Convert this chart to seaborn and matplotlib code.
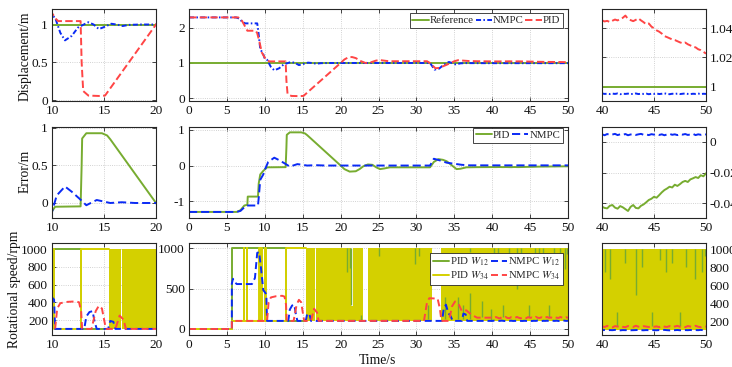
import matplotlib
matplotlib.use("Agg")
import matplotlib.pyplot as plt
import seaborn as sns
from matplotlib.lines import Line2D

sns.set_theme(style="white")
plt.rcParams['font.family'] = ['Liberation Serif', 'DejaVu Serif']
plt.rcParams['mathtext.fontset'] = 'stix'

# ---------------- data ----------------
fine_t = [40.0, 40.25, 40.5, 40.75, 41.0, 41.25, 41.5, 41.75, 42.0, 42.25, 42.5, 42.75,
          43.0, 43.25, 43.5, 43.75, 44.0, 44.25, 44.5, 44.75, 45.0, 45.25, 45.5, 45.75,
          46.0, 46.25, 46.5, 46.75, 47.0, 47.25, 47.5, 47.75, 48.0, 48.25, 48.5, 48.75,
          49.0, 49.25, 49.5, 49.75, 50.0]

# Displacement
ref_t = [0, 50]
ref_v = [1, 1]

disp_nmpc_t = [0, 6.2, 6.6, 7.0, 7.4, 9.0, 9.15, 9.4, 9.8, 10.0, 10.3, 10.8, 11.25, 11.9, 12.5,
               13.2, 13.5, 14.0, 14.5, 14.9, 15.7, 16.2, 16.8, 17.4, 18.5, 25.0, 31.8, 32.4,
               33.0, 33.6, 34.3, 34.8, 35.2, 35.8, 36.5, 38.0, 39.75]
disp_nmpc_v = [2.3, 2.3, 2.27, 2.18, 2.13, 2.13, 1.9, 1.4, 1.25, 1.12, 1.09, 0.89, 0.79, 0.85, 0.96,
               1.01, 1.03, 1.0, 0.94, 0.96, 1.01, 1.0, 0.98, 0.995, 1.0, 1.0, 1.0, 0.81,
               0.84, 0.95, 1.03, 0.99, 0.96, 0.99, 0.997, 0.996, 0.995]
disp_nmpc_fine = [0.9953, 0.9950, 0.9951, 0.9949, 0.9952, 0.9950, 0.9953, 0.9948, 0.9951, 0.9950,
                  0.9952, 0.9949, 0.9950, 0.9953, 0.9949, 0.9951, 0.9950, 0.9952, 0.9948, 0.9951,
                  0.9950, 0.9953, 0.9949, 0.9951, 0.9954, 0.9950, 0.9948, 0.9951, 0.9950, 0.9952,
                  0.9949, 0.9951, 0.9953, 0.9950, 0.9949, 0.9951, 0.9950, 0.9952, 0.9949, 0.9951,
                  0.9950]

disp_pid_t = [0, 6.5, 7.0, 7.5, 7.7, 8.8, 9.0, 9.3, 9.6, 10.0, 10.4, 10.6, 12.75, 12.85, 13.0,
              13.5, 14.5, 15.1, 20.0, 20.5, 21.0, 21.5, 22.0, 22.7, 23.3, 24.0, 24.7, 25.3,
              26.0, 26.5, 31.4, 31.8, 32.5, 33.0, 34.0, 35.0, 35.5, 36.0, 37.0, 38.0, 39.75]
disp_pid_v = [2.3, 2.3, 2.2, 2.0, 1.92, 1.92, 1.85, 1.6, 1.3, 1.15, 1.07, 1.045, 1.045, 0.5, 0.12,
              0.06, 0.055, 0.06, 1.0, 1.1, 1.16, 1.17, 1.14, 1.05, 1.0, 1.02, 1.07, 1.08,
              1.06, 1.05, 1.05, 1.0, 0.85, 0.86, 0.95, 1.05, 1.08, 1.07, 1.055, 1.05, 1.046]
disp_pid_fine = [1.0452, 1.0445, 1.0449, 1.0441, 1.0450, 1.0458, 1.0452, 1.0462, 1.0470, 1.0485,
                 1.0462, 1.0454, 1.0447, 1.0456, 1.0466, 1.0452, 1.0440, 1.0425, 1.0431, 1.0410,
                 1.0398, 1.0384, 1.0375, 1.0362, 1.0345, 1.0338, 1.0330, 1.0322, 1.0318, 1.0310,
                 1.0302, 1.0296, 1.0301, 1.0289, 1.0281, 1.0272, 1.0268, 1.0255, 1.0249, 1.0238,
                 1.0225]

# Error
err_pid_t = [0, 6.3, 6.8, 7.3, 7.7, 7.75, 9.1, 9.2, 9.4, 9.8, 10.3, 12.75, 12.85, 12.9, 13.3,
             14.8, 15.3, 15.6, 20.0, 20.5, 21.2, 22.0, 22.5, 23.0, 23.6, 24.2, 24.7, 25.2,
             25.8, 26.5, 31.8, 32.3, 32.9, 33.5, 34.0, 34.7, 35.3, 35.8, 36.6, 38.0, 39.75]
err_pid_v = [-1.3, -1.3, -1.25, -1.12, -1.1, -0.87, -0.87, -0.5, -0.25, -0.15, -0.05, -0.045, 0.5, 0.86, 0.93,
             0.93, 0.9, 0.85, 0.0, -0.1, -0.17, -0.16, -0.1, -0.02, 0.03, 0.02, -0.05, -0.1,
             -0.08, -0.05, -0.05, 0.1, 0.18, 0.16, 0.12, 0.0, -0.1, -0.09, -0.05, -0.045, -0.043]
err_pid_fine = [-0.0424, -0.0432, -0.0435, -0.0418, -0.0413, -0.0430, -0.0437, -0.0420, -0.0428,
                -0.0440, -0.0452, -0.0425, -0.0413, -0.0432, -0.0435, -0.0418, -0.0409, -0.0395,
                -0.0380, -0.0372, -0.0359, -0.0365, -0.0348, -0.0330, -0.0315, -0.0305, -0.0293,
                -0.0298, -0.0280, -0.0288, -0.0276, -0.0262, -0.0255, -0.0262, -0.0245, -0.0238,
                -0.0230, -0.0236, -0.0218, -0.0225, -0.0205]

err_nmpc_t = [0, 6.3, 6.8, 7.3, 7.6, 9.1, 9.2, 9.4, 9.8, 10.0, 10.45, 11.25, 11.9, 12.7, 13.3,
              14.3, 15.6, 16.7, 18.0, 31.8, 32.3, 33.0, 34.0, 35.0, 36.0, 37.0, 39.75]
err_nmpc_v = [-1.3, -1.3, -1.27, -1.17, -1.12, -1.12, -0.9, -0.4, -0.25, -0.12, 0.1, 0.22, 0.15, 0.05, -0.03,
              0.04, 0.0, 0.01, 0.0, 0.0, 0.19, 0.15, 0.08, 0.05, 0.02, 0.006, 0.005]
err_nmpc_fine = [0.0050, 0.0044, 0.0052, 0.0046, 0.0049, 0.0053, 0.0045, 0.0050, 0.0047, 0.0052,
                 0.0044, 0.0049, 0.0051, 0.0046, 0.0050, 0.0053, 0.0047, 0.0049, 0.0045, 0.0051,
                 0.0048, 0.0052, 0.0046, 0.0050, 0.0044, 0.0049, 0.0053, 0.0047, 0.0050, 0.0045,
                 0.0051, 0.0048, 0.0052, 0.0046, 0.0049, 0.0053, 0.0045, 0.0050, 0.0047, 0.0051,
                 0.0049]

# Rotational speed
w12_pid_t = [0, 5.65, 5.65, 12.75, 12.75, 15.5]
w12_pid_v = [0, 0, 1000, 1000, 100, 100]

w34_pid_t = [0, 5.65, 5.65, 7.2, 7.2, 7.3, 7.3, 7.6, 7.6, 7.7, 7.7, 9.25, 9.25, 9.35, 9.35,
             9.5, 9.5, 9.6, 9.6, 10.0, 10.0, 10.15, 10.15, 12.8, 12.8, 15.5]
w34_pid_v = [0, 0, 100, 100, 1000, 1000, 100, 100, 1000, 1000, 100, 100, 1000, 1000, 100,
             100, 1000, 1000, 100, 100, 1000, 1000, 100, 100, 1000, 1000]

# chattering bands of PID W34 (between low and high speed)
band_t0 = [15.45, 16.75, 21.4, 21.65, 23.55, 33.2]
band_t1 = [16.6, 21.4, 21.65, 23.0, 32.0, 50.0]
band_lo = [100, 100, 100, 100, 100, 100]
band_hi = [1000, 1000, 280, 1000, 1000, 1000]

# visible PID W12 streaks inside the band
streak_t = [20.8, 21.2, 21.35, 22.7, 25.0, 29.8, 30.3, 31.5, 33.8, 35.5, 36.2, 37.1, 37.1, 38.6,
            39.9, 40.3, 40.77, 41.4, 42.2, 43.3, 43.8, 44.8, 45.6, 46.2, 46.7, 47.5, 48.1, 48.9,
            49.6, 49.9]
streak_lo = [710, 750, 300, 100, 900, 800, 900, 120, 120, 120, 120, 120, 950, 150,
             100, 750, 670, 150, 850, 490, 800, 150, 880, 740, 850, 150, 800, 670,
             740, 920]
streak_hi = [1000, 1000, 1000, 170, 1000, 1000, 1000, 300, 400, 400, 300, 450, 1000, 350,
             250, 1000, 1000, 300, 1000, 1000, 1000, 300, 1000, 1000, 1000, 300, 1000, 1000,
             1000, 1000]

w12_nmpc_t = [0, 5.65, 5.65, 5.8, 6.0, 6.3, 8.3, 8.7, 9.0, 9.25, 9.5, 9.8, 10.2, 10.3,
              13.1, 13.3, 13.6, 13.9, 14.1, 14.3, 15.4, 15.6, 15.9, 16.1, 33.4, 33.6, 33.9,
              34.2, 34.5, 34.8, 36.0, 36.2, 36.5, 36.7, 39.75]
w12_nmpc_v = [0, 0, 560, 620, 580, 555, 555, 630, 940, 950, 750, 480, 430, 100,
              100, 240, 290, 300, 180, 100, 100, 190, 180, 100, 100, 250, 300,
              200, 160, 100, 100, 190, 180, 100, 100]
w12_nmpc_fine = [100, 102, 99, 101, 100, 103, 100, 98, 101, 100, 102, 99, 100, 101, 103, 100, 99,
                 101, 100, 102, 100, 99, 101, 100, 103, 100, 98, 101, 100, 102, 99, 100, 101,
                 100, 102, 99, 101, 100, 103, 100, 101]

w34_nmpc_t = [0, 5.65, 5.65, 10.3, 10.5, 10.8, 11.5, 12.3, 12.6, 12.8, 12.9, 13.8, 14.2, 14.5,
              14.8, 15.1, 15.2, 16.1, 16.5, 16.9, 17.1, 31.0, 31.4, 31.7, 32.8, 33.1, 33.3,
              34.3, 34.7, 35.1, 35.6, 36.0, 36.6, 37.2, 38.0, 39.75]
w34_nmpc_v = [0, 0, 100, 100, 330, 390, 405, 410, 400, 300, 100, 100, 300, 360,
              330, 150, 100, 100, 250, 200, 100, 100, 330, 380, 375, 250, 100,
              100, 280, 340, 300, 220, 230, 180, 140, 140]
w34_nmpc_fine = [142, 135, 148, 138, 131, 145, 140, 150, 137, 133, 146, 141, 136, 149, 139, 132,
                 144, 140, 135, 147, 138, 142, 134, 150, 139, 136, 145, 131, 141, 148, 137, 143,
                 134, 146, 140, 136, 149, 138, 133, 144, 140]

# ---------------- style ----------------
GREEN = '#77AC30'
YELLOW = '#D4D000'
BLUE = '#0A2AF5'
RED = '#FF4545'
DARK = '#262626'
LW = 1.4

W, H = 732, 367
fig = plt.figure(figsize=(W / 100, H / 100), dpi=100)


def add_ax(l, t, r, b):
    return fig.add_axes([l / W, 1 - b / H, (r - l) / W, (b - t) / H])


def style(ax, right=False):
    for sp in ax.spines.values():
        sp.set_color(DARK)
        sp.set_linewidth(0.8)
    ax.tick_params(direction='in', length=3, width=0.6, top=True, right=True, left=True,
                   bottom=True, labelsize=9.6, colors=DARK, pad=3)
    if right:
        ax.tick_params(axis='y', labelleft=False, labelright=True, pad=2.5)
    ax.grid(True, linestyle=':', color='#c4c4c4', linewidth=0.6)
    ax.set_xlabel('')
    ax.set_ylabel('')
    for lab in ax.get_xticklabels() + ax.get_yticklabels():
        lab.set_color('#111111')


def draw(ax, t, v, color, ls='-', z=2.0, lw=LW):
    sns.lineplot(x=t, y=v, ax=ax, color=color, linestyle=ls, linewidth=lw,
                 estimator=None, sort=False, legend=False, zorder=z)


DASHDOT = (0, (2.6, 1.2, 0.8, 1.2))
DASH1 = (0, (3.8, 1.7))
DASH2 = (0, (4.2, 2.0))
DASH3 = (0, (3.6, 2.0))

rows_y = [(9, 100.5), (127, 218), (243, 334.5)]
cols_x = [(52, 156), (189, 568), (602, 706)]
xlims = [(10, 20), (0, 50), (40, 50)]
xticks = [[10, 15, 20], list(range(0, 51, 5)), [40, 45, 50]]

axes = [[add_ax(cx[0], ry[0], cx[1], ry[1]) for cx in cols_x] for ry in rows_y]

# Row 1: displacement
for j, ax in enumerate(axes[0]):
    draw(ax, ref_t, ref_v, GREEN, '-', 2.0)
    draw(ax, disp_nmpc_t + fine_t, disp_nmpc_v + disp_nmpc_fine, BLUE, DASHDOT, 2.2)
    draw(ax, disp_pid_t + fine_t, disp_pid_v + disp_pid_fine, RED, DASH1, 2.3)

# Row 2: error
for j, ax in enumerate(axes[1]):
    draw(ax, err_pid_t + fine_t, err_pid_v + err_pid_fine, GREEN, '-', 2.0)
    draw(ax, err_nmpc_t + fine_t, err_nmpc_v + err_nmpc_fine, BLUE, DASH2, 2.2)

# Row 3: rotational speed
for j, ax in enumerate(axes[2]):
    draw(ax, w12_pid_t, w12_pid_v, GREEN, '-', 2.0)
    draw(ax, w34_pid_t, w34_pid_v, YELLOW, '-', 2.1)
    for t0, t1, lo, hi in zip(band_t0, band_t1, band_lo, band_hi):
        ax.fill_between([t0, t1], [lo, lo], [hi, hi], color=YELLOW, linewidth=0, zorder=2.15)
    ax.vlines(streak_t, streak_lo, streak_hi, color=GREEN, linewidth=1.0, zorder=2.18)
    draw(ax, w12_nmpc_t + fine_t, w12_nmpc_v + w12_nmpc_fine, BLUE, DASH3, 2.3)
    draw(ax, w34_nmpc_t + fine_t, w34_nmpc_v + w34_nmpc_fine, RED, DASH3, 2.4)

ylims = [
    [(-0.005, 1.205), (-0.07, 2.54), (0.9905, 1.053)],
    [(-0.2, 1.013), (-1.47, 1.08), (-0.0498, 0.0098)],
    [(37, 1068), (-68, 1062), (52, 1067)],
]
yticks = [
    [([0, 0.5, 1], ['0', '0.5', '1']), ([0, 1, 2], ['0', '1', '2']),
     ([1, 1.02, 1.04], ['1', '1.02', '1.04'])],
    [([0, 0.5, 1], ['0', '0.5', '1']), ([-1, 0, 1], ['-1', '0', '1']),
     ([-0.04, -0.02, 0], ['-0.04', '-0.02', '0'])],
    [([200, 400, 600, 800, 1000], ['200', '400', '600', '800', '1000']),
     ([0, 500, 1000], ['0', '500', '1000']),
     ([200, 400, 600, 800, 1000], ['200', '400', '600', '800', '1000'])],
]

for i in range(3):
    for j in range(3):
        ax = axes[i][j]
        ax.set_xlim(*xlims[j])
        ax.set_ylim(*ylims[i][j])
        ax.set_xticks(xticks[j])
        ax.set_xticklabels([str(x) for x in xticks[j]])
        ax.set_yticks(yticks[i][j][0])
        ax.set_yticklabels(yticks[i][j][1])
        style(ax, right=(j == 2))

leg_kw = dict(fontsize=7.8, frameon=True, fancybox=False, edgecolor=DARK, framealpha=1,
              borderpad=0.25, handletextpad=0.12, columnspacing=0.15, labelspacing=0.15,
              borderaxespad=0.0, handlelength=1.5)

h1 = [Line2D([], [], color=GREEN, lw=LW, ls='-'),
      Line2D([], [], color=BLUE, lw=LW, ls=DASHDOT),
      Line2D([], [], color=RED, lw=LW, ls=DASH1)]
lg = axes[0][1].legend(h1, ['Reference', 'NMPC', 'PID'], ncol=3, loc='upper right',
                       bbox_to_anchor=(0.987, 0.956), **leg_kw)
lg.get_frame().set_linewidth(0.6)

h2 = [Line2D([], [], color=GREEN, lw=LW, ls='-'),
      Line2D([], [], color=BLUE, lw=LW, ls=DASH2)]
lg = axes[1][1].legend(h2, ['PID', 'NMPC'], ncol=2, loc='upper right',
                       bbox_to_anchor=(0.987, 0.99), **leg_kw)
lg.get_frame().set_linewidth(0.6)

h3 = [Line2D([], [], color=GREEN, lw=LW, ls='-'),
      Line2D([], [], color=YELLOW, lw=LW, ls='-'),
      Line2D([], [], color=BLUE, lw=LW, ls=DASH3),
      Line2D([], [], color=RED, lw=LW, ls=DASH3)]
lg = axes[2][1].legend(h3, [r'PID $W_{12}$', r'PID $W_{34}$', r'NMPC $W_{12}$', r'NMPC $W_{34}$'],
                       ncol=2, loc='upper right', bbox_to_anchor=(0.987, 0.89), **leg_kw)
lg.get_frame().set_linewidth(0.6)

fig.text(25 / W, 1 - 56 / H, 'Displacement/m', rotation=90, ha='center', va='center',
         fontsize=9.8, color='#111111')
fig.text(25 / W, 1 - 171 / H, 'Error/m', rotation=90, ha='center', va='center',
         fontsize=9.8, color='#111111')
fig.text(15 / W, 1 - 289 / H, 'Rotational speed/rpm', rotation=90, ha='center', va='center',
         fontsize=9.8, color='#111111')
fig.text(377 / W, 1 - 360 / H, 'Time/s', ha='center', va='center', fontsize=9.8,
         color='#111111')

fig.savefig('out.png', dpi=100)
